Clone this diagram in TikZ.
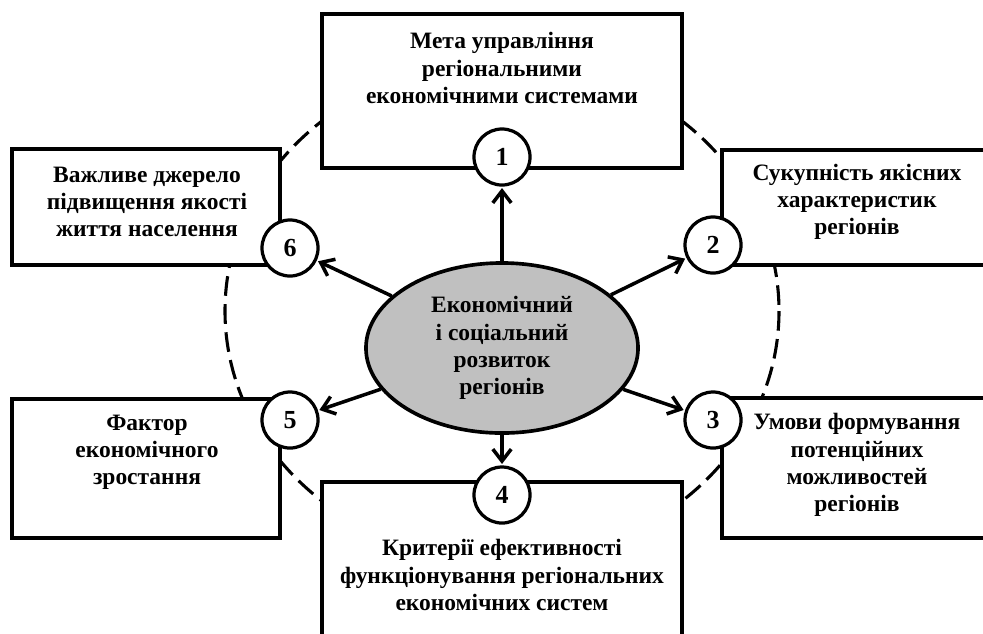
\documentclass[tikz,border=0pt]{standalone}
\usepackage{fontspec}
\setmainfont{Liberation Serif}
\usetikzlibrary{shapes.geometric, arrows.meta}
\definecolor{coregray}{RGB}{192,192,192}

\begin{document}
\begin{tikzpicture}[
  x=0.025cm, y=-0.025cm,
  font=\bfseries\fontsize{16.7}{19.3}\selectfont,
  block/.style={
    draw=black,
    fill=white,
    line width=2.8pt,
    inner sep=0pt,
  },
  blocktext/.style={
    align=center,
    inner sep=0pt,
  },
  numcircle/.style={
    draw=black,
    fill=white,
    circle,
    line width=2.3pt,
    minimum size=1.4cm,
    inner sep=0pt,
    font=\bfseries\fontsize{18.5}{20}\selectfont,
  },
  core/.style={
    draw=black,
    fill=coregray,
    ellipse,
    line width=2.6pt,
    minimum width=6.8cm,
    minimum height=4.25cm,
    inner sep=0pt,
    align=center,
  },
  link/.style={
    line width=2.5pt,
    -{Straight Barb[length=3mm, width=4.6mm]},
    shorten >=1pt,
  },
  ring/.style={
    line width=2.2pt,
    dash pattern=on 14pt off 6pt,
  }
]

  \useasboundingbox (0,0) rectangle (983,633);
  \clip (0,0) rectangle (983,633);

  % dashed ring behind everything
  \draw[ring] (502,311) ellipse [x radius=277, y radius=250];

  % === boxes ===
  \node[block, minimum width=9cm, minimum height=3.85cm] (b1) at (502,91) {};
  \node[block, minimum width=6.95cm, minimum height=2.875cm] (b2) at (861,207.5) {};
  \node[block, minimum width=6.95cm, minimum height=3.5cm] (b3) at (861,468) {};
  \node[block, minimum width=9cm, minimum height=4.2cm] (b4) at (502,566) {};
  \node[block, minimum width=6.7cm, minimum height=3.475cm] (b5) at (146,468.5) {};
  \node[block, minimum width=6.7cm, minimum height=2.9cm] (b6) at (146,207) {};

  % box texts
  \node[blocktext] (t1) at (502,68) {Мета управління\\ регіональними\\ економічними системами};
  \node[blocktext] (t2) at (857,202) {Сукупність якісних\\ характеристик\\ регіонів};
  \node[blocktext] (t3) at (857,465) {Умови формування\\ потенційних\\ можливостей\\ регіонів};
  \node[blocktext] (t4) at (502,575) {Критерії ефективності\\ функціонування регіональних\\ економічних систем};
  \node[blocktext] (t5) at (147,452) {Фактор\\ економічного\\ зростання};
  \node[blocktext] (t6) at (147,202) {Важливе джерело\\ підвищення якості\\ життя населення};

  % === numbered circles ===
  \node[numcircle] (c1) at (502,157) {1};
  \node[numcircle] (c2) at (713,245) {2};
  \node[numcircle] (c3) at (713,420) {3};
  \node[numcircle] (c4) at (502,495) {4};
  \node[numcircle] (c5) at (290,420) {5};
  \node[numcircle] (c6) at (290,248) {6};

  % centre
  \node[core] (ctr) at (502,348) {Економічний\\ і соціальний\\ розвиток\\ регіонів};

  % arrows out of the centre
  \foreach \n in {1,...,6}
    \draw[link] (ctr) -- (c\n);

\end{tikzpicture}
\end{document}
